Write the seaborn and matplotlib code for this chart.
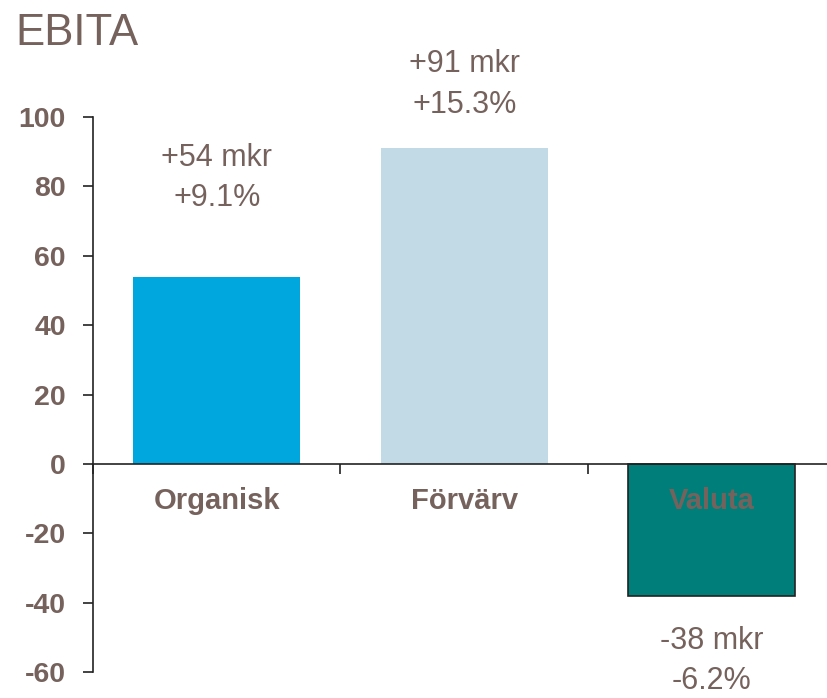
import matplotlib
matplotlib.use("Agg")
import matplotlib.pyplot as plt
import seaborn as sns
import pandas as pd

# --- Data ---
categories = ["Organisk", "Förvärv", "Valuta"]
values = [54, 91, -38]
mkr_labels = ["+54 mkr", "+91 mkr", "-38 mkr"]
pct_labels = ["+9.1%", "+15.3%", "-6.2%"]
bar_colors = ["#00a6de", "#c1dae5", "#007f7a"]

text_color = "#76625c"

sns.set_style("white")
plt.rcParams["font.family"] = ["Liberation Sans", "DejaVu Sans"]
plt.rcParams["axes.unicode_minus"] = False

df = pd.DataFrame({"cat": categories, "val": values})

fig = plt.figure(figsize=(8.28, 6.98), dpi=100)
ax = fig.add_axes([0.1123, 0.0372, 0.8877, 0.7952])

sns.barplot(data=df, x="cat", y="val", hue="cat", palette=bar_colors,
            width=0.675, legend=False, ax=ax, saturation=1)

# only the negative bar has a dark outline
for patch, v in zip(ax.patches, values):
    if v < 0:
        patch.set_edgecolor("#222222")
        patch.set_linewidth(1.2)
    else:
        patch.set_linewidth(0)

ax.set_xlim(-0.5, 2.47)
ax.set_ylim(-60, 100)
ax.set_yticks(range(-60, 101, 20))
ax.set_xticks([-0.5, 0.5, 1.5])
ax.set_xticklabels([])
ax.set_xlabel("")
ax.set_ylabel("")

for side in ["top", "right"]:
    ax.spines[side].set_visible(False)
ax.spines["left"].set_color("#222222")
ax.spines["left"].set_linewidth(1.2)
ax.spines["bottom"].set_position(("data", 0))
ax.spines["bottom"].set_color("#222222")
ax.spines["bottom"].set_linewidth(1.2)

ax.tick_params(axis="y", left=True, direction="out", length=7.5, width=1.2,
               color="#222222", pad=12, labelsize=20.5, labelcolor=text_color)
ax.tick_params(axis="x", bottom=True, direction="out", length=7, width=1.2,
               color="#222222")
for lbl in ax.get_yticklabels():
    lbl.set_fontweight("bold")

# category names sit just under the zero line
for i, cat in enumerate(categories):
    ax.text(i, -10.6, cat, ha="center", va="center", fontsize=21,
            fontweight="bold", color=text_color)

# value annotations (two lines per bar)
label_centers = [82.5, 109.4, -56.8]
for i in range(len(categories)):
    ax.text(i, label_centers[i], mkr_labels[i] + "\n" + pct_labels[i],
            ha="center", va="center", fontsize=22, color=text_color,
            linespacing=1.45, clip_on=False)

fig.text(0.018, 0.9355, "EBITA", fontsize=31.5, color=text_color,
         ha="left", va="baseline")

fig.savefig("out.png", dpi=100)
